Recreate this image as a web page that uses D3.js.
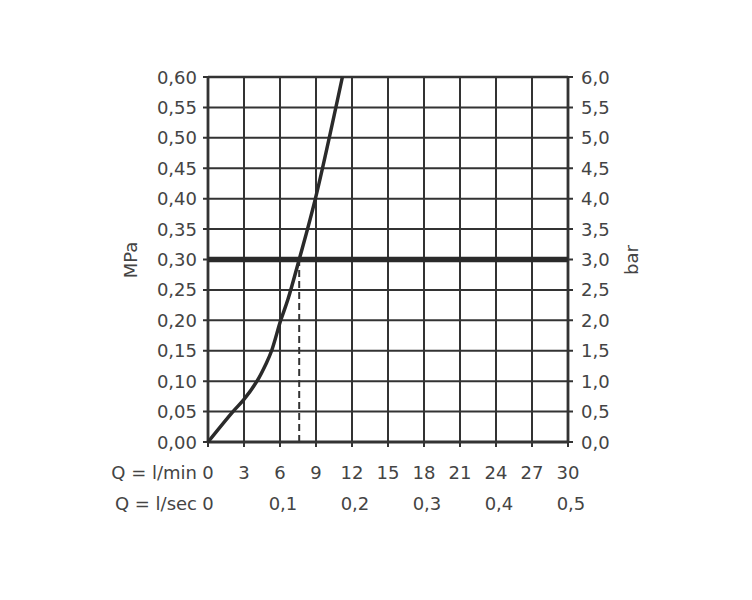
<!DOCTYPE html>
<html><head><meta charset="utf-8">
<script src="https://cdn.jsdelivr.net/npm/d3@7"></script>
<style>body{margin:0;background:#fff;} text{font-family:"DejaVu Sans",sans-serif;fill:#444;}</style>
</head><body><svg id="c" width="752" height="600"></svg>
<script>
const flowLmin = [0, 2.08, 3.0, 4.08, 4.87, 5.3, 6.06, 6.67, 7.6, 8.95, 11.2];
const pressureMPa = [0, 0.05, 0.07, 0.10, 0.13, 0.15, 0.20, 0.235, 0.30, 0.40, 0.60];
const operatingPressure = 0.30;
const operatingFlow = 7.6;
const xTicksLmin = [0,3,6,9,12,15,18,21,24,27,30];
const xTicksLsec = [0,0.1,0.2,0.3,0.4,0.5];
const yTicksMPa = [0,0.05,0.10,0.15,0.20,0.25,0.30,0.35,0.40,0.45,0.50,0.55,0.60];
const yTicksBar = [0,0.5,1,1.5,2,2.5,3,3.5,4,4.5,5,5.5,6];

const svg = d3.select("#c");
const x = d3.scaleLinear().domain([0,30]).range([208,568]);
const y = d3.scaleLinear().domain([0,0.6]).range([442,77]);
const yBar = d3.scaleLinear().domain([0,6]).range([442,77]);
const col = "#333";
const fmt2 = v => v.toFixed(2).replace(".", ",");
const fmt1 = v => v.toFixed(1).replace(".", ",");

const g = svg.append("g");
g.selectAll("line.v").data(xTicksLmin).join("line")
 .attr("x1", d=>x(d)).attr("x2", d=>x(d)).attr("y1", y(0)+5).attr("y2", y(0.6))
 .attr("stroke", col).attr("stroke-width", 2);
g.selectAll("line.h").data(yTicksMPa).join("line")
 .attr("x1", x(0)-5).attr("x2", x(30)+5).attr("y1", d=>y(d)).attr("y2", d=>y(d))
 .attr("stroke", col).attr("stroke-width", 2);
g.append("line").attr("x1",x(0)).attr("x2",x(0)).attr("y1",y(0)).attr("y2",y(0.6)).attr("stroke",col).attr("stroke-width",2.8);
g.append("line").attr("x1",x(30)).attr("x2",x(30)).attr("y1",y(0)).attr("y2",y(0.6)).attr("stroke",col).attr("stroke-width",2.8);
g.append("line").attr("x1",x(0)).attr("x2",x(30)).attr("y1",y(0)).attr("y2",y(0)).attr("stroke",col).attr("stroke-width",2.8);
g.append("line").attr("x1",x(0)).attr("x2",x(30)).attr("y1",y(0.6)).attr("y2",y(0.6)).attr("stroke",col).attr("stroke-width",2.6);

g.append("line").attr("x1",x(0)).attr("x2",x(30)).attr("y1",y(operatingPressure)).attr("y2",y(operatingPressure))
 .attr("stroke","#2a2a2a").attr("stroke-width",5.5);
g.append("line").attr("x1",x(operatingFlow)).attr("x2",x(operatingFlow)).attr("y1",y(0)).attr("y2",y(operatingPressure))
 .attr("stroke",col).attr("stroke-width",2).attr("stroke-dasharray","7,4");

const pts = flowLmin.map((f,i)=>[f, pressureMPa[i]]);
g.append("path").datum(pts)
 .attr("d", d3.line().x(d=>x(d[0])).y(d=>y(d[1])).curve(d3.curveCatmullRom.alpha(0.5)))
 .attr("fill","none").attr("stroke","#2a2a2a").attr("stroke-width",3.5).attr("stroke-linejoin","round");

svg.selectAll("text.yl").data(yTicksMPa).join("text")
 .attr("x", 197).attr("y", d=>y(d)+6.5).attr("text-anchor","end").attr("font-size",18).text(fmt2);
svg.selectAll("text.yr").data(yTicksBar).join("text")
 .attr("x", 581).attr("y", d=>yBar(d)+6.5).attr("text-anchor","start").attr("font-size",18).text(fmt1);
svg.append("text").attr("transform","translate(137,260) rotate(-90)").attr("text-anchor","middle").attr("font-size",18).text("MPa");
svg.append("text").attr("transform","translate(638,260) rotate(-90)").attr("text-anchor","middle").attr("font-size",18).text("bar");

svg.selectAll("text.xl").data(xTicksLmin).join("text")
 .attr("x", d=>x(d)).attr("y", 479).attr("text-anchor","middle").attr("font-size",18).text(d=>d);
svg.selectAll("text.xs").data(xTicksLsec).join("text")
 .attr("x", d=>x(d*60)+(d===0?0:3)).attr("y", 510).attr("text-anchor","middle").attr("font-size",18).text(d=>d===0?"0":fmt1(d));
svg.append("text").attr("x",197).attr("y",479).attr("text-anchor","end").attr("font-size",18).text("Q = l/min");
svg.append("text").attr("x",197).attr("y",510).attr("text-anchor","end").attr("font-size",18).text("Q = l/sec");
</script></body></html>
